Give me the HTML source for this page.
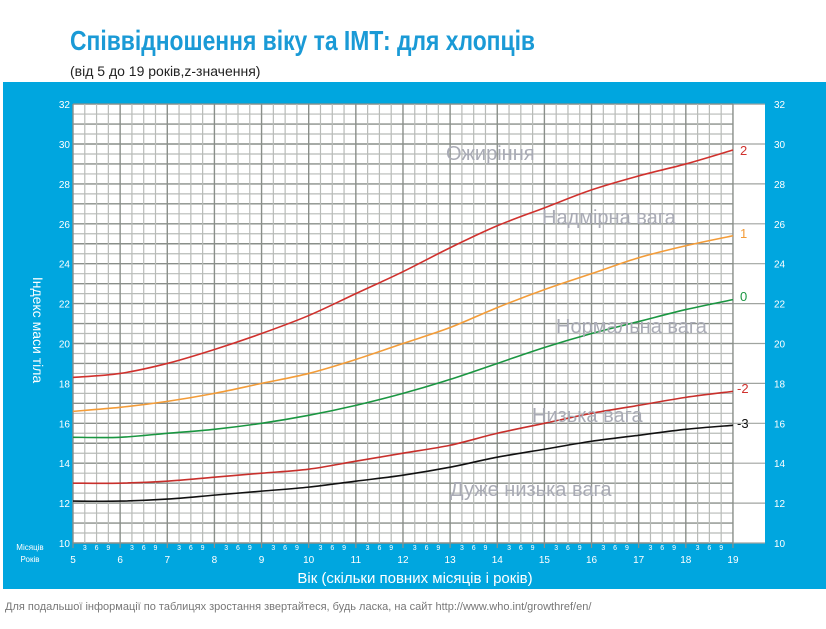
<!DOCTYPE html>
<html><head><meta charset="utf-8"><style>
body{margin:0;background:#fff;width:826px;height:624px;overflow:hidden;font-family:"Liberation Sans",sans-serif}
</style></head><body>
<svg id="s" width="826" height="624" xmlns="http://www.w3.org/2000/svg" font-family="Liberation Sans, sans-serif">
<text x="70" y="50" font-family="Liberation Sans Narrow, Liberation Sans, sans-serif" font-weight="bold" font-size="28" fill="#1a9ad6" textLength="465" lengthAdjust="spacingAndGlyphs">Співвідношення віку та ІМТ: для хлопців</text>
<text x="70" y="76" font-size="14" fill="#222">(від 5 до 19 років,z-значення)</text>
<rect x="3" y="82" width="823" height="507" fill="#00a6df"/>
<rect x="73" y="104" width="692" height="439" fill="#fff"/>
<g id="grid"></g>
<g id="curves" fill="none" stroke-width="1.6"></g>
<g font-family="Liberation Sans Narrow, Liberation Sans, sans-serif" font-size="20" fill="#a9abb5">
<text x="446" y="160">Ожиріння</text>
<text x="542" y="224">Надмірна вага</text>
<text x="556" y="333">Нормальна вага</text>
<text x="532" y="422">Низька вага</text>
<text x="450" y="496">Дуже низька вага</text>
</g>
<g font-size="13">
<text x="740" y="155" fill="#d0312d">2</text>
<text x="740" y="238" fill="#f39c38">1</text>
<text x="740" y="301" fill="#1a9641">0</text>
<text x="737" y="393" fill="#d0312d">-2</text>
<text x="737" y="428" fill="#111">-3</text>
</g>
<g id="labels" fill="#fff"></g>
<text transform="translate(33,330) rotate(90)" text-anchor="middle" font-size="14" fill="#fff">Індекс маси тіла</text>
<text x="30" y="550" text-anchor="middle" font-size="8" fill="#fff">Місяців</text>
<text x="30" y="562" text-anchor="middle" font-size="8" fill="#fff">Років</text>
<text x="415" y="583" text-anchor="middle" font-size="15" fill="#fff">Вік (скільки повних місяців і років)</text>
<text x="5" y="610" font-size="11" fill="#777">Для подальшої інформації по таблицях зростання звертайтеся, будь ласка, на сайт  http://www.who.int/growthref/en/</text>
</svg>
<script>
var NS="http://www.w3.org/2000/svg";
function el(p,t,a,txt){var e=document.createElementNS(NS,t);for(var k in a)e.setAttribute(k,a[k]);if(txt!=null)e.textContent=txt;document.getElementById(p).appendChild(e);return e;}
var X0=73,YR=47.14,Y0=543,U=19.95;
function X(a){return X0+(a-5)*YR}function Y(v){return Y0-(v-10)*U}
for(var i=0;i<=44;i++){var v=10+i/2,y=Y(v);var maj=(i%2==0);
 el("grid","line",{x1:73,x2:733,y1:y,y2:y,stroke:maj?"#8a8f8a":"#b8bbb8","stroke-width":maj?1.4:1.2});
 if(i%4==0){el("grid","line",{x1:733,x2:765,y1:y,y2:y,stroke:"#a0a4a0","stroke-width":1.2});
  el("labels","text",{x:70,y:y+4,"text-anchor":"end","font-size":10},String(v));
  el("labels","text",{x:774,y:y+4,"font-size":10},String(v));}}
for(var j=0;j<=56;j++){var x=X0+j*YR/4;var maj=(j%4==0);
 el("grid","line",{x1:x,x2:x,y1:104,y2:543,stroke:maj?"#8a8f8a":"#b8bbb8","stroke-width":maj?1.4:1.2});
 if(maj){el("grid","line",{x1:x,x2:x,y1:543,y2:548,stroke:"#8a8f8a","stroke-width":1.2});
  el("labels","text",{x:x,y:563,"text-anchor":"middle","font-size":10},String(5+j/4));}
 else if(j<56){el("labels","text",{x:x,y:550,"text-anchor":"middle","font-size":7},String((j%4)*3));}}
var S={"#d0312d":[18.3,18.5,19.0,19.7,20.5,21.4,22.5,23.6,24.8,25.9,26.8,27.7,28.4,29.0,29.7],
"#f39c38":[16.6,16.8,17.1,17.5,18.0,18.5,19.2,20.0,20.8,21.8,22.7,23.5,24.3,24.9,25.4],
"#1a9641":[15.3,15.3,15.5,15.7,16.0,16.4,16.9,17.5,18.2,19.0,19.8,20.5,21.1,21.7,22.2],
"#c8302c":[13.0,13.0,13.1,13.3,13.5,13.7,14.1,14.5,14.9,15.5,16.0,16.5,16.9,17.3,17.6],
"#111":[12.1,12.1,12.2,12.4,12.6,12.8,13.1,13.4,13.8,14.3,14.7,15.1,15.4,15.7,15.9]};
for(var c in S){var d=S[c],p=[];for(var k=0;k<d.length;k++)p.push([X(5+k),Y(d[k])]);
 var s="M"+p[0][0]+","+p[0][1];
 for(var k=0;k<p.length-1;k++){var a=p[k>0?k-1:0],b=p[k],e=p[k+1],f=p[k+2<p.length?k+2:k+1];
  s+=" C"+(b[0]+(e[0]-a[0])/6)+","+(b[1]+(e[1]-a[1])/6)+" "+(e[0]-(f[0]-b[0])/6)+","+(e[1]-(f[1]-b[1])/6)+" "+e[0]+","+e[1];}
 el("curves","path",{d:s,stroke:c});}
</script>
</body></html>
